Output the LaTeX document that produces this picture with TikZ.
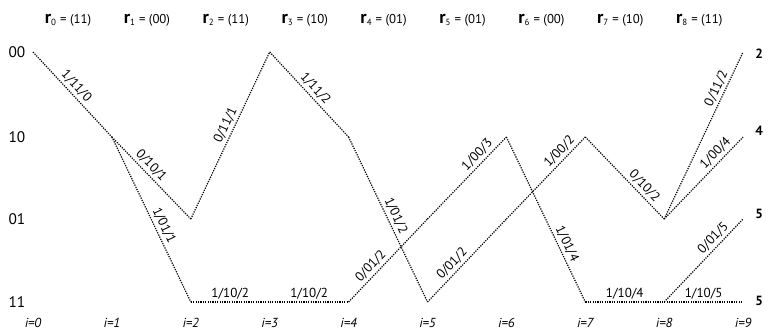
\documentclass[tikz,border=0pt]{standalone}
\usepackage{fontspec}
\setmainfont{PT Sans}
\usetikzlibrary{calc}

\begin{document}
\begin{tikzpicture}[x=0.75pt,y=-0.75pt,
    trel/.style={line width=0.9pt,dash pattern=on 0.9pt off 0.9pt},
    lab/.style={sloped,above,inner sep=1.8pt,font=\fontsize{9.8}{11}\selectfont},
    state/.style={anchor=east,font=\fontsize{11.5}{12}\selectfont},
    rlab/.style={font=\fontsize{9.6}{11}\selectfont},
    ilab/.style={font=\fontsize{9.8}{11}\selectfont\itshape},
    cost/.style={font=\fontsize{10}{11}\selectfont\bfseries}]
    \useasboundingbox (0,0) rectangle (769,335);
    % trellis points, rows 00/10/01/11 = a/b/c/d
    \foreach \i in {0,...,9} {
      \coordinate (a\i) at ({33+78.9*\i},52);
      \coordinate (b\i) at ({33+78.9*\i},137);
      \coordinate (c\i) at ({33+78.9*\i},219);
      \coordinate (d\i) at ({33+78.9*\i},302);
      \node[ilab] (t\i) at ({33+78.9*\i},323) {i=\i};
    }
    % received pairs
    \foreach \k/\v in {0/11,1/00,2/11,3/10,4/01,5/01,6/00,7/10,8/11}
      \node[rlab] (r\k) at ({68+78.9*\k},20)
        {{\fontsize{13.5}{13}\selectfont\bfseries r}\textsubscript{\k} = (\v)};
    % states
    \node[state] (s00) at ($(a0)+(-3,0)$) {00};
    \node[state] (s10) at ($(b0)+(-3,0)$) {10};
    \node[state] (s01) at ($(c0)+(-3,0)$) {01};
    \node[state] (s11) at ($(d0)+(-3,0)$) {11};
    % branches
    \draw[trel] (a0) -- node[lab,pos=.47]{1/11/0} (b1);
    \draw[trel] (b1) -- node[lab,pos=.42]{0/10/1} (c2);
    \draw[trel] (b1) -- node[lab,pos=.56]{1/01/1} (d2);
    \draw[trel] (c2) -- node[lab,pos=.54]{0/11/1} (a3);
    \draw[trel] (a3) -- node[lab,pos=.5]{1/11/2} (b4);
    \draw[trel] (b4) -- node[lab,pos=.5]{1/01/2} (d5);
    \draw[trel] (d2) -- node[lab]{1/10/2} (d3);
    \draw[trel] (d3) -- node[lab]{1/10/2} (d4);
    \draw[trel] (d4) -- node[lab,pos=.36]{0/01/2} (c5);
    \draw[trel] (c5) -- node[lab,pos=.71]{1/00/3} (b6);
    \draw[trel] (d5) -- node[lab,pos=.39]{0/01/2} (c6);
    \draw[trel] (c6) -- node[lab,pos=.75]{1/00/2} (b7);
    \draw[trel] (b6) -- node[lab,pos=.67]{1/01/4} (d7);
    \draw[trel] (b7) -- node[lab,pos=.67]{0/10/2} (c8);
    \draw[trel] (c8) -- node[lab,pos=.76]{0/11/2} (a9);
    \draw[trel] (c8) -- node[lab,pos=.73]{1/00/4} (b9);
    \draw[trel] (d7) -- node[lab]{1/10/4} (d8);
    \draw[trel] (d8) -- node[lab,pos=.7]{0/01/5} (c9);
    \draw[trel] (d8) -- node[lab]{1/10/5} (d9);
    % path metrics
    \node[cost] (k00) at ($(a9)+(16,2)$) {2};
    \node[cost] (k10) at ($(b9)+(16,-6)$) {4};
    \node[cost] (k01) at ($(c9)+(16,-5)$) {5};
    \node[cost] (k11) at ($(d9)+(16,-1)$) {5};
  \end{tikzpicture}
\end{document}
